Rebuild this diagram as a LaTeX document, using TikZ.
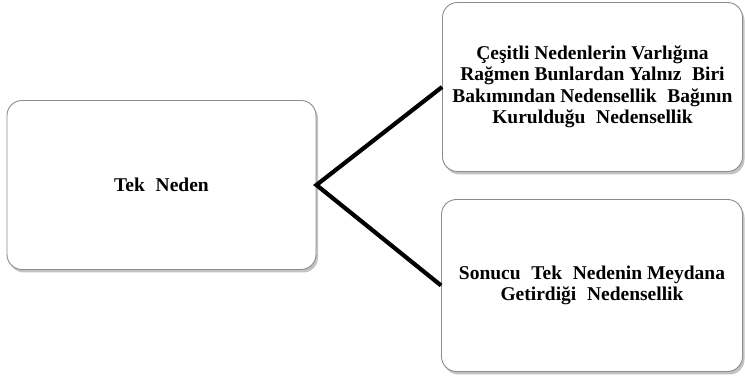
\documentclass[tikz,border=0pt]{standalone}
\usepackage{fontspec}
\setmainfont{Liberation Serif}[BoldFont={Liberation Serif Bold}]
\usetikzlibrary{shadows}
\newcommand{\wsp}{\hspace{0.55em}}
\tikzset{
  x=1pt, y=-1pt,
  card/.style={draw=black!45, line width=0.9pt, rounded corners=15pt, fill=white,
    drop shadow={shadow xshift=2pt, shadow yshift=-3pt, opacity=0.4, fill=black!60},
    align=center, inner sep=0pt,
    font=\fontsize{19.5}{21.5}\selectfont\bfseries},
  link/.style={line width=4.2pt, black, line join=miter}
}
\begin{document}
\begin{tikzpicture}
\useasboundingbox (0,0) rectangle (745,379);
\node[card, minimum width=309pt, minimum height=169pt] (L) at (161.5,185) {Tek\wsp Neden};
\node[card, minimum width=300pt, minimum height=169pt] (A) at (592.5,87)
  {Çeşitli Nedenlerin Varlığına\\
   Rağmen Bunlardan Yalnız\wsp Biri\\
   Bakımından Nedensellik\wsp Bağının\\
   Kurulduğu\wsp Nedensellik};
\node[card, minimum width=301pt, minimum height=172pt] (B) at (592,285.5)
  {Sonucu\wsp Tek\wsp Nedenin Meydana\\
   Getirdiği\wsp Nedensellik};
\draw[link] (A.west) -- (L.east) -- (B.west);
\end{tikzpicture}
\end{document}
